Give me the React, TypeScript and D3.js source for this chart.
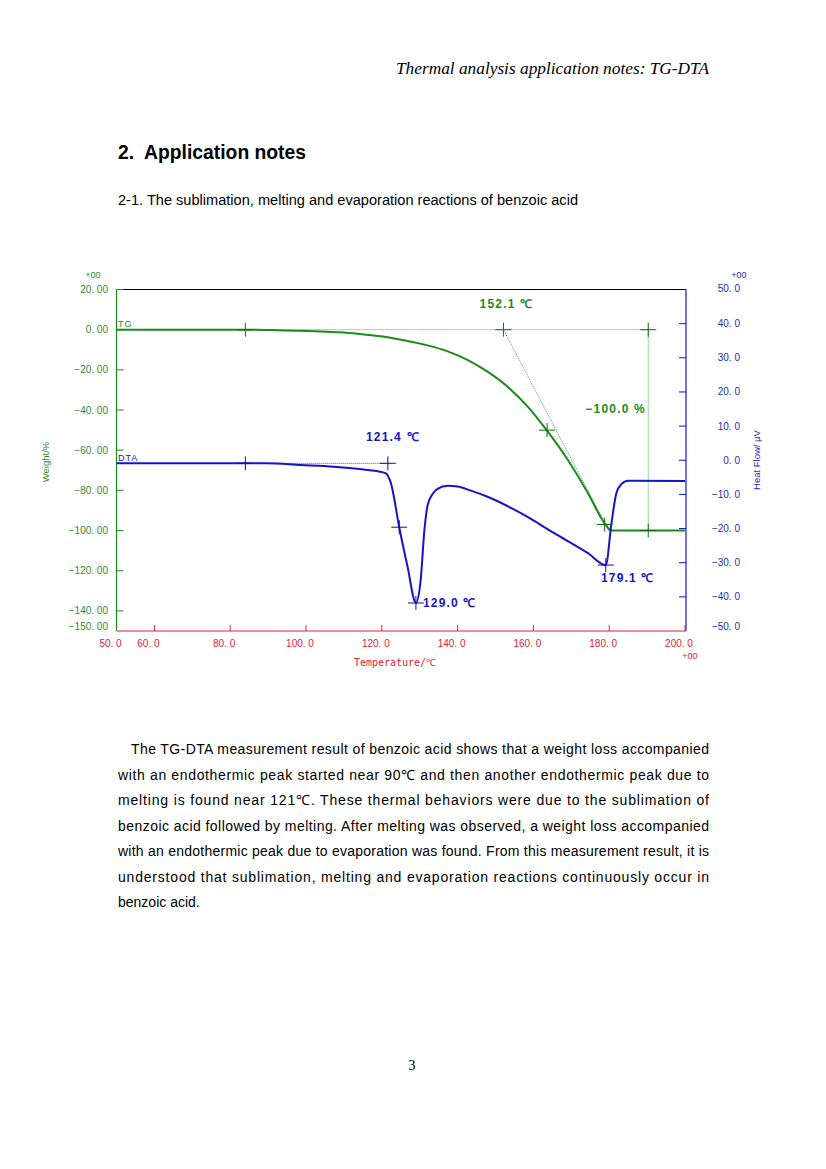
import React from "react";
import * as d3 from "d3";

// ---- data ----
const tgTemp = [50, 84, 91, 98.5, 104, 109, 114.4, 119.7, 123, 126.8, 132.1, 137.4, 142.6, 147.9, 153.2, 158.5, 163.6, 169.1, 174.4, 178.8, 180.6, 200];
const tgWeight = [0, 0, -0.2, -0.5, -0.9, -1.3, -2.2, -3.3, -4.3, -5.6, -7.8, -10.8, -15.0, -20.9, -28.4, -38.3, -50.3, -64.9, -81.4, -96.4, -100, -100];

const dtaTemp = [50, 89.7, 98.5, 107.3, 116.2, 121.0, 122.4, 124.6, 126.8, 129.0, 130.3, 131.2, 132.1, 133.4, 134.7, 137.4, 140.0, 143.5, 147.9, 156.7, 165.6, 174.4, 179.1, 180.6, 181.9, 183.2, 185.0, 200];
const dtaFlow = [-0.9, -0.9, -1.4, -1.9, -2.85, -3.8, -6.7, -19.6, -31.2, -41.8, -34.5, -21, -13.1, -9.9, -8.4, -7.5, -7.7, -8.9, -10.7, -15.5, -21.4, -27.2, -30.7, -18.4, -9.6, -7, -6, -6.1];

const xTicks = [50, 60, 80, 100, 120, 140, 160, 180, 200];
const xTickLabels = ["50. 0", "60. 0", "80. 0", "100. 0", "120. 0", "140. 0", "160. 0", "180. 0", "200. 0"];
const wTicks = [20, 0, -20, -40, -60, -80, -100, -120, -140, -150];
const wTickLabels = ["20. 00", "0. 00", "\u221220. 00", "\u221240. 00", "\u221260. 00", "\u221280. 00", "\u2212100. 00", "\u2212120. 00", "\u2212140. 00", "\u2212150. 00"];
const hTicks = [50, 40, 30, 20, 10, 0, -10, -20, -30, -40, -50];
const hTickLabels = ["50. 0", "40. 0", "30. 0", "20. 0", "10. 0", "0. 0", "\u221210. 0", "\u221220. 0", "\u221230. 0", "\u221240. 0", "\u221250. 0"];

// annotation points [temp, value]
const tgOnsetStart = [84, 0];
const tgOnset = [152.1, 0];
const tgEndRef = [190.3, 0];
const tgEndRefLow = [190.3, -100];
const tgMid = [163.6, -50];
const tgEnd = [178.8, -97];
const tgTangentEnd = [179.9, -100];
const dtaBaseStart = [84, -0.9];
const dtaOnset = [121.6, -0.9];
const dtaMid = [124.6, -19.6];
const dtaPeak1 = [129.0, -41.8];
const dtaPeak2 = [179.1, -30.7];

const paragraph = [
  "The TG-DTA measurement result of benzoic acid shows that a weight loss accompanied",
  "with an endothermic peak started near 90\u2103 and then another endothermic peak due to",
  "melting is found near 121\u2103. These thermal behaviors were due to the sublimation of",
  "benzoic acid followed by melting. After melting was observed, a weight loss accompanied",
  "with an endothermic peak due to evaporation was found. From this measurement result, it is",
  "understood that sublimation, melting and evaporation reactions continuously occur in",
  "benzoic acid.",
];

const GREEN = "#1c8a1c";
const GREEN_D = "#156a15";
const BLUE = "#1414c8";
const BLUE_D = "#101090";
const RED = "#e0203c";
const LBL_GREEN = "#2e8b2e";
const LBL_BLUE = "#2a2ab4";

export default function App() {
  const left = 116.5, right = 685, top = 289.5, bottom = 631;
  const x = d3.scaleLinear().domain([50, 200]).range([left, right]);
  const yW = d3.scaleLinear().domain([-150, 20]).range([bottom, top]);
  const yH = d3.scaleLinear().domain([-50, 50]).range([bottom, top]);

  const tgLine = d3.line<number>().x((_, i) => x(tgTemp[i])).y((d) => yW(d)).curve(d3.curveMonotoneX);
  const dtaLine = d3.line<number>().x((_, i) => x(dtaTemp[i])).y((d) => yH(d)).curve(d3.curveMonotoneX);

  const tickFont = "'Liberation Sans', Arial, sans-serif";
  const annFont = "'Liberation Sans', Arial, sans-serif";

  const cross = (cx: number, cy: number, color: string, key: string) => (
    <g key={key} stroke={color} strokeWidth={1}>
      <line x1={cx - 8} x2={cx + 8} y1={cy} y2={cy} />
      <line x1={cx} x2={cx} y1={cy - 7} y2={cy + 7} />
    </g>
  );

  const pW = (p: number[]) => [x(p[0]), yW(p[1])];
  const pH = (p: number[]) => [x(p[0]), yH(p[1])];

  return (
    <div style={{ position: "absolute", left: 0, top: 0 }}>
      <svg width={826} height={1169} style={{ display: "block", background: "#fff" }}>
        <rect width={826} height={1169} fill="#fff" />
        {/* header */}
        <text x={709} y={74} textAnchor="end" fontFamily="'Liberation Serif', 'DejaVu Serif', serif" fontStyle="italic" fontSize={16} textLength={313} lengthAdjust="spacingAndGlyphs">
          Thermal analysis application notes: TG-DTA
        </text>
        <text x={118} y={159} fontFamily="'Liberation Sans', Arial, sans-serif" fontWeight="bold" fontSize={20} textLength={188} lengthAdjust="spacingAndGlyphs">
          {"2.\u00a0 Application notes"}
        </text>
        <text x={118} y={205} fontFamily="'Liberation Sans', Arial, sans-serif" fontSize={14} textLength={460} lengthAdjust="spacingAndGlyphs">
          2-1. The sublimation, melting and evaporation reactions of benzoic acid
        </text>

        {/* chart frame */}
        <line x1={left} x2={right + 1} y1={top} y2={top} stroke="#000" strokeWidth={1} />
        <line x1={left} x2={left} y1={top} y2={bottom} stroke={GREEN} strokeWidth={1.2} />
        <line x1={right + 1} x2={right + 1} y1={top} y2={bottom} stroke={BLUE} strokeWidth={1.2} />
        <line x1={left} x2={right + 1} y1={bottom} y2={bottom} stroke={RED} strokeWidth={1.2} />

        {/* left ticks */}
        {wTicks.map((t, i) => (
          <g key={"w" + t}>
            {t !== -150 && <line x1={left} x2={left + 7} y1={yW(t)} y2={yW(t)} stroke={GREEN} strokeWidth={1} />}
            <text x={108} y={yW(t) + (t === -150 ? -1 : 3.5)} textAnchor="end" fontFamily={tickFont} fontSize={10} fill={LBL_GREEN}>
              {wTickLabels[i]}
            </text>
          </g>
        ))}
        <text x={93} y={278} textAnchor="middle" fontFamily={tickFont} fontSize={9} fill={LBL_GREEN}>+00</text>
        <text transform={`translate(49,462) rotate(-90)`} textAnchor="middle" fontFamily={tickFont} fontSize={9.5} fill={LBL_GREEN}>Weight/%</text>

        {/* right ticks */}
        {hTicks.map((t, i) => (
          <g key={"h" + t}>
            {t !== 50 && t !== -50 && <line x1={right + 1} x2={right - 6} y1={yH(t)} y2={yH(t)} stroke={BLUE} strokeWidth={1} />}
            <text x={740} y={yH(t) + (t === -50 ? -1 : t === 50 ? 2 : 3.5)} textAnchor="end" fontFamily={tickFont} fontSize={10} fill={LBL_BLUE}>
              {hTickLabels[i]}
            </text>
          </g>
        ))}
        <text x={739} y={278} textAnchor="middle" fontFamily={tickFont} fontSize={9} fill={LBL_BLUE}>+00</text>
        <text transform={`translate(760,460) rotate(-90)`} textAnchor="middle" fontFamily={tickFont} fontSize={9.5} fill={LBL_BLUE}>Heat Flow/ µV</text>

        {/* bottom ticks */}
        {xTicks.map((t, i) => (
          <g key={"x" + t}>
            {t !== 50 && <line x1={x(t)} x2={x(t)} y1={bottom} y2={bottom - 6} stroke={RED} strokeWidth={1} />}
            <text x={x(t) - 6} y={647} textAnchor="middle" fontFamily={tickFont} fontSize={10} fill={RED}>
              {xTickLabels[i]}
            </text>
          </g>
        ))}
        <text x={690} y={659} textAnchor="middle" fontFamily={tickFont} fontSize={9} fill={RED}>+00</text>
        <text x={395} y={666} textAnchor="middle" fontFamily="'DejaVu Sans Mono', monospace" fontSize={10} fill={RED}>Temperature/℃</text>

        {/* TG annotations */}
        <line x1={pW(tgOnsetStart)[0]} x2={pW(tgEndRef)[0]} y1={pW(tgOnset)[1]} y2={pW(tgOnset)[1]} stroke={GREEN} strokeWidth={0.8} strokeDasharray="1,1" />
        <line x1={pW(tgEndRef)[0]} x2={pW(tgEndRefLow)[0]} y1={pW(tgEndRef)[1]} y2={pW(tgEndRefLow)[1]} stroke={GREEN} strokeWidth={0.8} strokeDasharray="1,1" />
        <line x1={pW(tgOnset)[0]} x2={pW(tgTangentEnd)[0]} y1={pW(tgOnset)[1]} y2={pW(tgTangentEnd)[1]} stroke={GREEN} strokeWidth={0.8} strokeDasharray="1,1" />

        {/* DTA annotations */}
        <line x1={pH(dtaBaseStart)[0]} x2={pH(dtaOnset)[0]} y1={pH(dtaOnset)[1]} y2={pH(dtaOnset)[1]} stroke={BLUE} strokeWidth={0.8} strokeDasharray="1,1" />

        {/* curves */}
        <path d={tgLine(tgWeight) || ""} fill="none" stroke={GREEN} strokeWidth={2} />
        <path d={dtaLine(dtaFlow) || ""} fill="none" stroke={BLUE} strokeWidth={2} />

        {/* crosses */}
        {[tgOnsetStart, tgOnset, tgEndRef, tgEndRefLow, tgMid, tgEnd].map((p, i) => cross(pW(p)[0], pW(p)[1], GREEN_D, "tc" + i))}
        {[dtaBaseStart, dtaOnset, dtaMid, dtaPeak1, dtaPeak2].map((p, i) => cross(pH(p)[0], pH(p)[1], BLUE_D, "dc" + i))}

        {/* curve labels */}
        <text x={118} y={327} fontFamily={tickFont} fontSize={9} fill={GREEN} letterSpacing={1}>TG</text>
        <text x={118} y={461} fontFamily={tickFont} fontSize={9} fill={BLUE} letterSpacing={1}>DTA</text>

        {/* annotation texts */}
        <g fontFamily={annFont} fontWeight="bold" fontSize={12} letterSpacing={1.2}>
          <text x={pW(tgOnset)[0] + 3} y={308} textAnchor="middle" fill={GREEN}>152.1 ℃</text>
          <text x={646} y={413} textAnchor="end" fill={GREEN}>−100.0 %</text>
          <text x={pH(dtaOnset)[0] + 5} y={441} textAnchor="middle" fill={BLUE}>121.4 ℃</text>
          <text x={pH(dtaPeak1)[0] + 7} y={pH(dtaPeak1)[1] + 4} fill={BLUE}>129.0 ℃</text>
          <text x={pH(dtaPeak2)[0] + 22} y={582} textAnchor="middle" fill={BLUE}>179.1 ℃</text>
        </g>

        {/* paragraph */}
        {paragraph.map((line, i) => {
          const last = i === paragraph.length - 1;
          const x0 = i === 0 ? 131 : 118;
          return (
            <text key={"p" + i} x={x0} y={754 + i * 25.5} fontFamily="'Liberation Sans', Arial, sans-serif" fontSize={14}
              {...(last ? {} : { textLength: 709 - x0, lengthAdjust: "spacing" })}>
              {line}
            </text>
          );
        })}

        <text x={412} y={1070} textAnchor="middle" fontFamily="'Liberation Serif', serif" fontSize={14}>3</text>
      </svg>
    </div>
  );
}
